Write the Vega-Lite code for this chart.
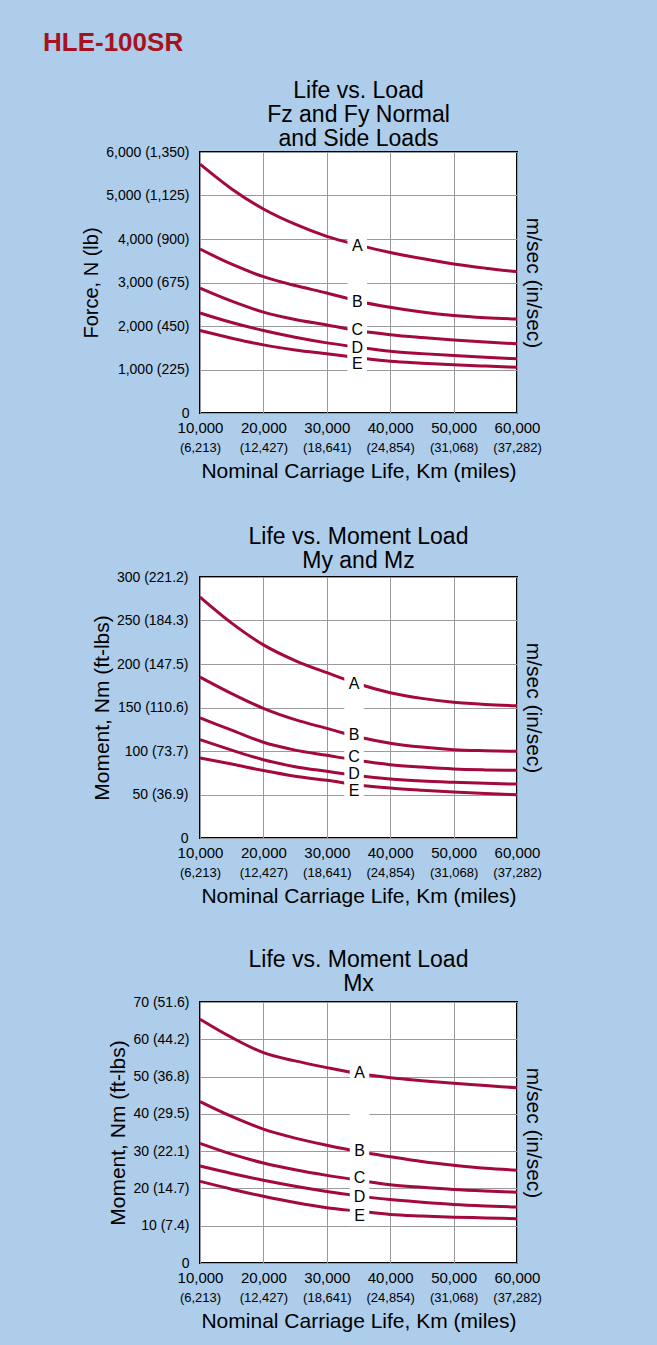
{
  "$schema": "https://vega.github.io/schema/vega-lite/v6.json",
  "background": "#adcdea",
  "padding": {"left": 43, "top": 30, "right": 130, "bottom": 50},
  "bounds": "flush",
  "spacing": 164,
  "title": {"text": "HLE-100SR", "anchor": "start", "frame": "group", "dx": -157, "offset": 23, "fontSize": 26, "fontWeight": "bold", "color": "#a8121e", "font": "Liberation Sans"},
  "datasets": {
    "force": [
      {"km":10000,"v":5720,"c":"A"},{"km":15000,"v":5150,"c":"A"},{"km":20000,"v":4690,"c":"A"},{"km":25000,"v":4340,"c":"A"},{"km":30000,"v":4060,"c":"A"},{"km":35000,"v":3860,"c":"A"},{"km":40000,"v":3690,"c":"A"},{"km":45000,"v":3550,"c":"A"},{"km":50000,"v":3425,"c":"A"},{"km":55000,"v":3330,"c":"A"},{"km":60000,"v":3250,"c":"A"},
      {"km":10000,"v":3770,"c":"B"},{"km":15000,"v":3420,"c":"B"},{"km":20000,"v":3135,"c":"B"},{"km":25000,"v":2930,"c":"B"},{"km":30000,"v":2760,"c":"B"},{"km":35000,"v":2570,"c":"B"},{"km":40000,"v":2430,"c":"B"},{"km":45000,"v":2320,"c":"B"},{"km":50000,"v":2240,"c":"B"},{"km":55000,"v":2190,"c":"B"},{"km":60000,"v":2160,"c":"B"},
      {"km":10000,"v":2870,"c":"C"},{"km":15000,"v":2570,"c":"C"},{"km":20000,"v":2320,"c":"C"},{"km":25000,"v":2150,"c":"C"},{"km":30000,"v":2025,"c":"C"},{"km":35000,"v":1890,"c":"C"},{"km":40000,"v":1800,"c":"C"},{"km":45000,"v":1735,"c":"C"},{"km":50000,"v":1680,"c":"C"},{"km":55000,"v":1630,"c":"C"},{"km":60000,"v":1590,"c":"C"},
      {"km":10000,"v":2300,"c":"D"},{"km":15000,"v":2080,"c":"D"},{"km":20000,"v":1895,"c":"D"},{"km":25000,"v":1740,"c":"D"},{"km":30000,"v":1612,"c":"D"},{"km":35000,"v":1510,"c":"D"},{"km":40000,"v":1420,"c":"D"},{"km":45000,"v":1365,"c":"D"},{"km":50000,"v":1320,"c":"D"},{"km":55000,"v":1280,"c":"D"},{"km":60000,"v":1245,"c":"D"},
      {"km":10000,"v":1895,"c":"E"},{"km":15000,"v":1720,"c":"E"},{"km":20000,"v":1566,"c":"E"},{"km":25000,"v":1450,"c":"E"},{"km":30000,"v":1360,"c":"E"},{"km":35000,"v":1270,"c":"E"},{"km":40000,"v":1190,"c":"E"},{"km":45000,"v":1145,"c":"E"},{"km":50000,"v":1107,"c":"E"},{"km":55000,"v":1078,"c":"E"},{"km":60000,"v":1054,"c":"E"}
    ],
    "forceLabels": [
      {"km":34800,"v":3846,"c":"A"},{"km":34800,"v":2546,"c":"B"},{"km":34800,"v":1915,"c":"C"},{"km":34800,"v":1500,"c":"D"},{"km":34800,"v":1115,"c":"E"},{"km":34800,"v":3000,"c":""}
    ],
    "my": [
      {"km":10000,"v":277,"c":"A"},{"km":15000,"v":247,"c":"A"},{"km":20000,"v":222,"c":"A"},{"km":25000,"v":204,"c":"A"},{"km":30000,"v":190,"c":"A"},{"km":35000,"v":177,"c":"A"},{"km":40000,"v":167,"c":"A"},{"km":45000,"v":160.5,"c":"A"},{"km":50000,"v":156,"c":"A"},{"km":55000,"v":153.5,"c":"A"},{"km":60000,"v":152,"c":"A"},
      {"km":10000,"v":185,"c":"B"},{"km":15000,"v":166,"c":"B"},{"km":20000,"v":149,"c":"B"},{"km":25000,"v":136,"c":"B"},{"km":30000,"v":126,"c":"B"},{"km":35000,"v":116,"c":"B"},{"km":40000,"v":109,"c":"B"},{"km":45000,"v":104.5,"c":"B"},{"km":50000,"v":101.5,"c":"B"},{"km":55000,"v":100.3,"c":"B"},{"km":60000,"v":99.6,"c":"B"},
      {"km":10000,"v":138,"c":"C"},{"km":15000,"v":124,"c":"C"},{"km":20000,"v":110,"c":"C"},{"km":25000,"v":101,"c":"C"},{"km":30000,"v":95,"c":"C"},{"km":35000,"v":89,"c":"C"},{"km":40000,"v":84.3,"c":"C"},{"km":45000,"v":81.5,"c":"C"},{"km":50000,"v":79.3,"c":"C"},{"km":55000,"v":78.3,"c":"C"},{"km":60000,"v":77.8,"c":"C"},
      {"km":10000,"v":113,"c":"D"},{"km":15000,"v":101,"c":"D"},{"km":20000,"v":90,"c":"D"},{"km":25000,"v":82,"c":"D"},{"km":30000,"v":76.6,"c":"D"},{"km":35000,"v":71.5,"c":"D"},{"km":40000,"v":67.8,"c":"D"},{"km":45000,"v":65.5,"c":"D"},{"km":50000,"v":64,"c":"D"},{"km":55000,"v":62.8,"c":"D"},{"km":60000,"v":62,"c":"D"},
      {"km":10000,"v":92,"c":"E"},{"km":15000,"v":85,"c":"E"},{"km":20000,"v":77.5,"c":"E"},{"km":25000,"v":71,"c":"E"},{"km":30000,"v":66.3,"c":"E"},{"km":35000,"v":61,"c":"E"},{"km":40000,"v":57.5,"c":"E"},{"km":45000,"v":55,"c":"E"},{"km":50000,"v":52.9,"c":"E"},{"km":55000,"v":51.2,"c":"E"},{"km":60000,"v":49.8,"c":"E"}
    ],
    "myLabels": [
      {"km":34300,"v":177,"c":"A"},{"km":34300,"v":118.8,"c":"B"},{"km":34300,"v":93.5,"c":"C"},{"km":34300,"v":74,"c":"D"},{"km":34300,"v":54.4,"c":"E"},{"km":34300,"v":150,"c":""}
    ],
    "mx": [
      {"km":10000,"v":65.4,"c":"A"},{"km":15000,"v":60.5,"c":"A"},{"km":20000,"v":56.4,"c":"A"},{"km":25000,"v":54.2,"c":"A"},{"km":30000,"v":52.4,"c":"A"},{"km":35000,"v":50.8,"c":"A"},{"km":40000,"v":49.7,"c":"A"},{"km":45000,"v":48.9,"c":"A"},{"km":50000,"v":48.2,"c":"A"},{"km":55000,"v":47.6,"c":"A"},{"km":60000,"v":47,"c":"A"},
      {"km":10000,"v":43.3,"c":"B"},{"km":15000,"v":39.3,"c":"B"},{"km":20000,"v":35.9,"c":"B"},{"km":25000,"v":33.5,"c":"B"},{"km":30000,"v":31.6,"c":"B"},{"km":35000,"v":29.9,"c":"B"},{"km":40000,"v":28.5,"c":"B"},{"km":45000,"v":27.2,"c":"B"},{"km":50000,"v":26.2,"c":"B"},{"km":55000,"v":25.4,"c":"B"},{"km":60000,"v":24.9,"c":"B"},
      {"km":10000,"v":32.1,"c":"C"},{"km":15000,"v":29.2,"c":"C"},{"km":20000,"v":26.8,"c":"C"},{"km":25000,"v":25,"c":"C"},{"km":30000,"v":23.5,"c":"C"},{"km":35000,"v":22.2,"c":"C"},{"km":40000,"v":21,"c":"C"},{"km":45000,"v":20.3,"c":"C"},{"km":50000,"v":19.7,"c":"C"},{"km":55000,"v":19.3,"c":"C"},{"km":60000,"v":19,"c":"C"},
      {"km":10000,"v":26,"c":"D"},{"km":15000,"v":24,"c":"D"},{"km":20000,"v":22.2,"c":"D"},{"km":25000,"v":20.6,"c":"D"},{"km":30000,"v":19.2,"c":"D"},{"km":35000,"v":18,"c":"D"},{"km":40000,"v":17,"c":"D"},{"km":45000,"v":16.3,"c":"D"},{"km":50000,"v":15.7,"c":"D"},{"km":55000,"v":15.3,"c":"D"},{"km":60000,"v":15,"c":"D"},
      {"km":10000,"v":21.9,"c":"E"},{"km":15000,"v":19.8,"c":"E"},{"km":20000,"v":17.9,"c":"E"},{"km":25000,"v":16.2,"c":"E"},{"km":30000,"v":14.8,"c":"E"},{"km":35000,"v":13.9,"c":"E"},{"km":40000,"v":13,"c":"E"},{"km":45000,"v":12.6,"c":"E"},{"km":50000,"v":12.3,"c":"E"},{"km":55000,"v":12.1,"c":"E"},{"km":60000,"v":11.9,"c":"E"}
    ],
    "mxLabels": [
      {"km":35160,"v":50.9,"c":"A"},{"km":35160,"v":30,"c":"B"},{"km":35160,"v":22.8,"c":"C"},{"km":35160,"v":17.7,"c":"D"},{"km":35160,"v":12.5,"c":"E"},{"km":35160,"v":40,"c":""}
    ]
  },
  "vconcat": [
    {
      "width": 317, "height": 261,
      "title": {"text": ["Life vs. Load", "Fz and Fy Normal", "and Side Loads"], "offset": -6},
      "layer": [
        {
          "data": {"name": "force"},
          "mark": {"type": "line", "color": "#a3093a", "strokeWidth": 3, "interpolate": "monotone"},
          "encoding": {
            "x": {"field": "km", "type": "quantitative", "scale": {"domain": [10000, 60000], "nice": false, "zero": false},
                  "axis": {"values": [10000,20000,30000,40000,50000,60000], "labelExpr": "format(datum.value, ',')", "title": null, "labelFontSize": 15, "labelPadding": 7}},
            "y": {"field": "v", "type": "quantitative", "scale": {"domain": [0, 6000], "nice": false},
                  "axis": {"values": [0,1000,2000,3000,4000,5000,6000], "labelExpr": "['0','1,000 (225)','2,000 (450)','3,000 (675)','4,000 (900)','5,000 (1,125)','6,000 (1,350)'][round(datum.value/1000)]", "title": "Force, N (lb)", "titleFontSize": 20, "labelPadding": 11, "titlePadding": 4}},
            "detail": {"field": "c"}
          }
        },
        {
          "data": {"name": "forceLabels"},
          "mark": {"type": "square", "color": "white", "opacity": 1, "filled": true, "size": 380},
          "encoding": {
            "x": {"field": "km", "type": "quantitative",
                  "axis": {"orient": "bottom", "offset": 22, "values": [10000,20000,30000,40000,50000,60000], "labelExpr": "['(6,213)','(12,427)','(18,641)','(24,854)','(31,068)','(37,282)'][round((datum.value-10000)/10000)]", "labelFontSize": 13, "labelPadding": 6, "grid": false, "title": "Nominal Carriage Life, Km (miles)", "titlePadding": 6}},
            "y": {"field": "v", "type": "quantitative",
                  "axis": {"orient": "right", "labels": false, "grid": false, "title": "m/sec (in/sec)", "titleAngle": 90, "titlePadding": 5}}
          }
        },
        {
          "data": {"name": "forceLabels"},
          "mark": {"type": "text", "fontSize": 16, "color": "black", "baseline": "middle", "align": "center"},
          "encoding": {
            "x": {"field": "km", "type": "quantitative", "axis": null},
            "y": {"field": "v", "type": "quantitative", "axis": null},
            "text": {"field": "c"}
          }
        }
      ],
      "resolve": {"axis": {"x": "independent", "y": "independent"}}
    },
    {
      "width": 317, "height": 261,
      "title": {"text": ["Life vs. Moment Load", "My and Mz"], "offset": -3},
      "layer": [
        {
          "data": {"name": "my"},
          "mark": {"type": "line", "color": "#a3093a", "strokeWidth": 3, "interpolate": "monotone"},
          "encoding": {
            "x": {"field": "km", "type": "quantitative", "scale": {"domain": [10000, 60000], "nice": false, "zero": false},
                  "axis": {"values": [10000,20000,30000,40000,50000,60000], "labelExpr": "format(datum.value, ',')", "title": null, "labelFontSize": 15, "labelPadding": 7}},
            "y": {"field": "v", "type": "quantitative", "scale": {"domain": [0, 300], "nice": false},
                  "axis": {"values": [0,50,100,150,200,250,300], "labelExpr": "['0','50 (36.9)','100 (73.7)','150 (110.6)','200 (147.5)','250 (184.3)','300 (221.2)'][round(datum.value/50)]", "title": "Moment, Nm (ft-lbs)", "labelPadding": 12, "titlePadding": 4}},
            "detail": {"field": "c"}
          }
        },
        {
          "data": {"name": "myLabels"},
          "mark": {"type": "square", "color": "white", "opacity": 1, "filled": true, "size": 380},
          "encoding": {
            "x": {"field": "km", "type": "quantitative",
                  "axis": {"orient": "bottom", "offset": 22, "values": [10000,20000,30000,40000,50000,60000], "labelExpr": "['(6,213)','(12,427)','(18,641)','(24,854)','(31,068)','(37,282)'][round((datum.value-10000)/10000)]", "labelFontSize": 13, "labelPadding": 6, "grid": false, "title": "Nominal Carriage Life, Km (miles)", "titlePadding": 6}},
            "y": {"field": "v", "type": "quantitative",
                  "axis": {"orient": "right", "labels": false, "grid": false, "title": "m/sec (in/sec)", "titleAngle": 90, "titlePadding": 5}}
          }
        },
        {
          "data": {"name": "myLabels"},
          "mark": {"type": "text", "fontSize": 16, "color": "black", "baseline": "middle", "align": "center"},
          "encoding": {
            "x": {"field": "km", "type": "quantitative", "axis": null},
            "y": {"field": "v", "type": "quantitative", "axis": null},
            "text": {"field": "c"}
          }
        }
      ],
      "resolve": {"axis": {"x": "independent", "y": "independent"}}
    },
    {
      "width": 317, "height": 261,
      "title": {"text": ["Life vs. Moment Load", "Mx"], "offset": -1},
      "layer": [
        {
          "data": {"name": "mx"},
          "mark": {"type": "line", "color": "#a3093a", "strokeWidth": 3, "interpolate": "monotone"},
          "encoding": {
            "x": {"field": "km", "type": "quantitative", "scale": {"domain": [10000, 60000], "nice": false, "zero": false},
                  "axis": {"values": [10000,20000,30000,40000,50000,60000], "labelExpr": "format(datum.value, ',')", "title": null, "labelFontSize": 15, "labelPadding": 7}},
            "y": {"field": "v", "type": "quantitative", "scale": {"domain": [0, 70], "nice": false},
                  "axis": {"values": [0,10,20,30,40,50,60,70], "labelExpr": "['0','10 (7.4)','20 (14.7)','30 (22.1)','40 (29.5)','50 (36.8)','60 (44.2)','70 (51.6)'][round(datum.value/10)]", "title": "Moment, Nm (ft-lbs)", "labelPadding": 11, "titlePadding": 4}},
            "detail": {"field": "c"}
          }
        },
        {
          "data": {"name": "mxLabels"},
          "mark": {"type": "square", "color": "white", "opacity": 1, "filled": true, "size": 380},
          "encoding": {
            "x": {"field": "km", "type": "quantitative",
                  "axis": {"orient": "bottom", "offset": 22, "values": [10000,20000,30000,40000,50000,60000], "labelExpr": "['(6,213)','(12,427)','(18,641)','(24,854)','(31,068)','(37,282)'][round((datum.value-10000)/10000)]", "labelFontSize": 13, "labelPadding": 6, "grid": false, "title": "Nominal Carriage Life, Km (miles)", "titlePadding": 6}},
            "y": {"field": "v", "type": "quantitative",
                  "axis": {"orient": "right", "labels": false, "grid": false, "title": "m/sec (in/sec)", "titleAngle": 90, "titlePadding": 5}}
          }
        },
        {
          "data": {"name": "mxLabels"},
          "mark": {"type": "text", "fontSize": 16, "color": "black", "baseline": "middle", "align": "center"},
          "encoding": {
            "x": {"field": "km", "type": "quantitative", "axis": null},
            "y": {"field": "v", "type": "quantitative", "axis": null},
            "text": {"field": "c"}
          }
        }
      ],
      "resolve": {"axis": {"x": "independent", "y": "independent"}}
    }
  ],
  "config": {
    "font": "Liberation Sans",
    "view": {"fill": "white", "stroke": "black", "strokeWidth": 2},
    "axis": {"grid": true, "gridColor": "#9a9a9a", "gridWidth": 1, "gridOpacity": 1, "ticks": false, "domain": false, "labelColor": "black", "titleColor": "black", "labelFont": "Liberation Sans", "labelFontSize": 14, "titleFont": "Liberation Sans", "titleFontWeight": "normal", "titleFontSize": 21, "labelFlush": false, "labelOverlap": false},
    "title": {"font": "Liberation Sans", "fontWeight": "normal", "fontSize": 23, "lineHeight": 24, "color": "black", "anchor": "middle"}
  }
}
